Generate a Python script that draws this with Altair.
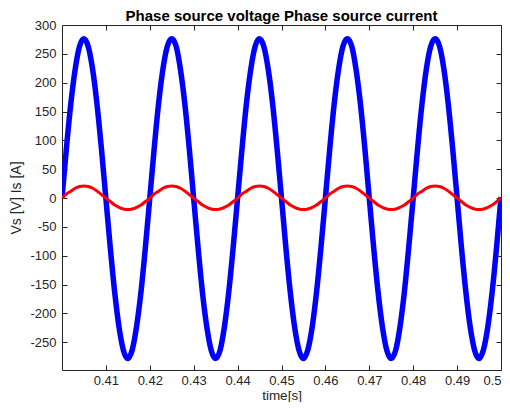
import altair as alt
import numpy as np
import pandas as pd

# time axis (s), 1 ms samples
time_s = np.round(np.arange(0.400, 0.5005, 0.001), 3).tolist()

# Phase source voltage Vs [V]
vs = [
    0, 86, 163, 223, 263, 276, 262, 222, 161, 84,
    -1, -86, -163, -224, -264, -278, -263, -222, -162, -85,
    0, 86, 164, 224, 263, 276, 263, 222, 162, 85,
    -1, -86, -164, -224, -264, -278, -264, -223, -162, -85,
    0, 85, 163, 223, 263, 276, 262, 222, 162, 85,
    0, -86, -163, -224, -264, -278, -263, -223, -162, -85,
    0, 86, 163, 223, 263, 276, 263, 222, 162, 85,
    -1, -86, -163, -224, -264, -278, -264, -223, -162, -84,
    0, 86, 163, 224, 263, 276, 263, 223, 162, 85,
    0, -86, -163, -224, -264, -278, -263, -223, -162, -85,
    2,
]

# Phase source current Is [A]
is_ = [
    0, 7, 12, 17, 20, 21, 20, 17, 12, 6,
    0, -6, -12, -16, -19, -20, -19, -16, -12, -6,
    0, 7, 12, 17, 20, 21, 20, 17, 12, 6,
    0, -6, -12, -16, -19, -20, -19, -16, -12, -6,
    0, 7, 12, 17, 20, 21, 20, 17, 12, 6,
    0, -6, -12, -16, -19, -20, -19, -16, -12, -6,
    0, 7, 12, 17, 20, 21, 20, 17, 12, 6,
    0, -6, -12, -16, -19, -20, -19, -16, -12, -6,
    0, 7, 12, 17, 20, 21, 20, 17, 12, 6,
    0, -6, -12, -16, -19, -20, -19, -16, -12, -6,
    1,
]

x_ticks = [0.41, 0.42, 0.43, 0.44, 0.45, 0.46, 0.47, 0.48, 0.49, 0.5]
y_ticks = [-250, -200, -150, -100, -50, 0, 50, 100, 150, 200, 250, 300]

df = pd.DataFrame({"t": time_s, "Vs": vs, "Is": is_})

axis_color = "#262626"
font = "Liberation Sans"

xscale = alt.Scale(domain=[0.4, 0.5], nice=False, zero=False)
yscale = alt.Scale(domain=[-298, 300], nice=False, zero=False)

common = dict(offset=-5, tickSize=5, domain=False, grid=False,
              tickColor=axis_color, tickWidth=1)

base = alt.Chart(df)

blue = base.mark_line(color="#0000ff", strokeWidth=5.5, clip=True,
                      interpolate="monotone").encode(
    x=alt.X("t:Q", scale=xscale, title="time[s]",
            axis=alt.Axis(orient="bottom", values=x_ticks, labelPadding=4,
                          labelExpr="toString(datum.value)", titlePadding=1,
                          titleFontSize=13.5, **common)),
    y=alt.Y("Vs:Q", scale=yscale, title="Vs [V] Is [A]",
            axis=alt.Axis(orient="left", values=y_ticks, labelPadding=6,
                          labelExpr="toString(datum.value)", titlePadding=6,
                          **common)),
)

red = base.mark_line(color="#ff0000", strokeWidth=3, clip=True,
                     interpolate="monotone").encode(
    x=alt.X("t:Q", scale=xscale,
            axis=alt.Axis(orient="top", values=x_ticks, labels=False,
                          title=None, **common)),
    y=alt.Y("Is:Q", scale=yscale,
            axis=alt.Axis(orient="right", values=y_ticks, labels=False,
                          title=None, **common)),
)

chart = (
    alt.layer(blue, red)
    .resolve_axis(x="independent", y="independent")
    .properties(
        width=439,
        height=345,
        title=alt.TitleParams(
            "Phase source voltage Phase source current",
            fontSize=15, fontWeight="bold", font=font, color="black",
            anchor="middle", offset=1, dy=6,
        ),
        autosize=alt.AutoSizeParams(type="none"),
        padding={"left": 54, "top": 17, "right": 1, "bottom": 32},
    )
    .configure_view(stroke=axis_color, strokeWidth=1)
    .configure_axis(
        labelFont=font, titleFont=font, labelFontSize=13, titleFontSize=14,
        labelColor=axis_color, titleColor=axis_color, titleFontWeight="normal",
    )
)

chart.save("out.html", embed_options={"renderer": "svg", "actions": False})
